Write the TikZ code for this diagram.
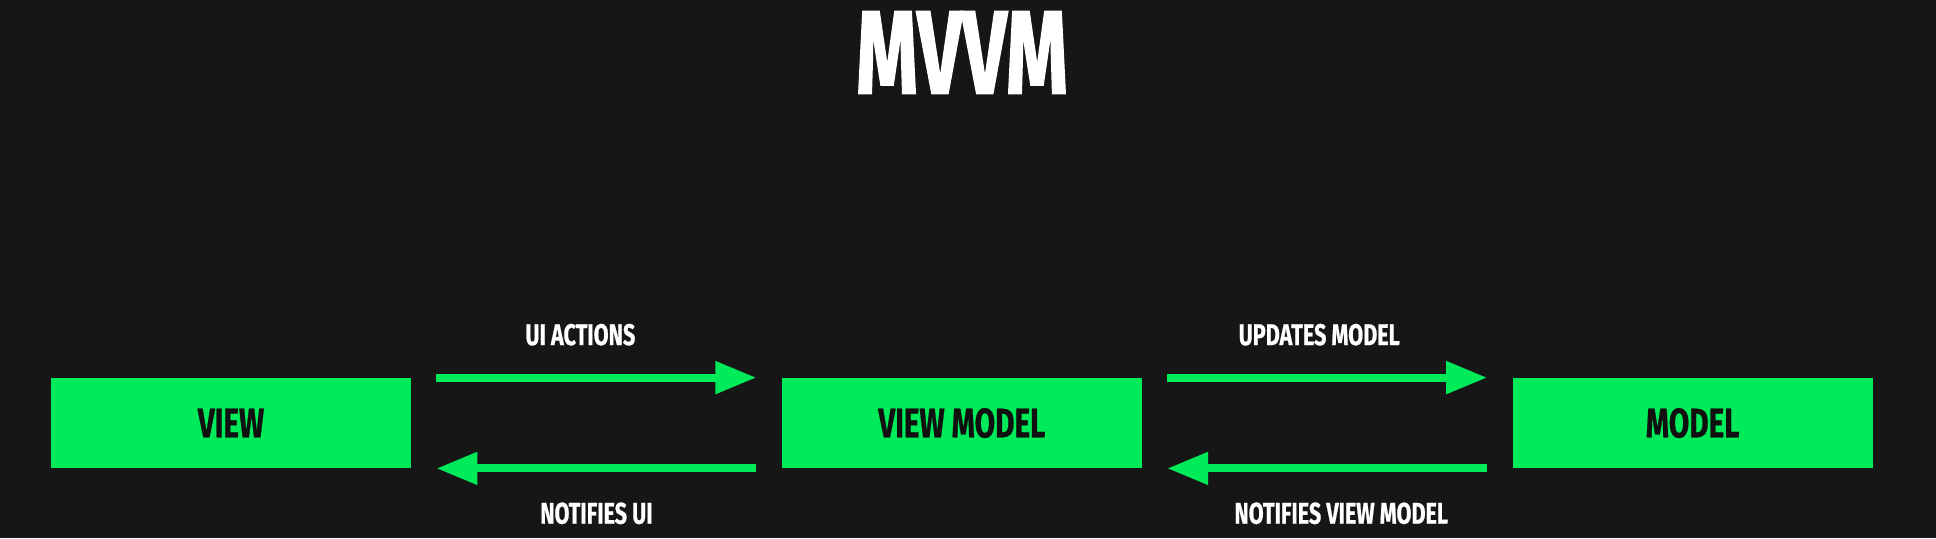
\documentclass[tikz,border=0pt]{standalone}
\usepackage{fontspec}
\setmainfont{Fira Sans}
\newfontfamily\titlefont[FakeStretch=0.66,FakeBold=1.2]{Fira Sans}
\newfontfamily\labelfont[FakeStretch=0.72,FakeBold=0.6]{Fira Sans}
\usepackage{xcolor}
\usetikzlibrary{positioning,arrows.meta}
\definecolor{bggray}{HTML}{161616}
\definecolor{mvvmgreen}{HTML}{00EB5A}
\definecolor{boxtext}{HTML}{101010}

\begin{document}
\begin{tikzpicture}[x=0.5pt,y=-0.5pt]
            \tikzstyle{block} = [fill=mvvmgreen, minimum width=180pt, minimum height=45pt, inner sep=0pt, text=boxtext, font=\labelfont\bfseries\fontsize{20.6}{21}\selectfont]
            \tikzstyle{flow} = [draw=mvvmgreen, line width=4pt, -{Triangle[length=20.5pt,width=15.5pt]}]
            \tikzstyle{tag} = [inner sep=0pt, text=white, font=\labelfont\bfseries\fontsize{15}{16}\selectfont]
            \fill [bggray] (0,0) rectangle (1936,538);
            \useasboundingbox (0,0) rectangle (1936,538);

            \node [text=white, inner sep=0pt, font=\titlefont\bfseries\fontsize{59.5}{60}\selectfont] (title) at (962,52.5) {MVVM};
            \node [block] (view) at (231,423) {VIEW};
            \node [block, right = 185pt of view] (viewmodel) {VIEW MODEL};
            \node [block, right = 185pt of viewmodel] (model) {MODEL};

            \draw [flow] ([xshift=12.5pt]view.north east) -- node[tag, above=14pt, xshift=-8pt] {UI ACTIONS} ([xshift=-12.5pt]viewmodel.north west);
            \draw [flow] ([xshift=-12.5pt]viewmodel.south west) -- node[tag, below=15pt] {NOTIFIES UI} ([xshift=12.5pt]view.south east);
            \draw [flow] ([xshift=12.5pt]viewmodel.north east) -- node[tag, above=14pt, xshift=-4pt] {UPDATES MODEL} ([xshift=-12.5pt]model.north west);
            \draw [flow] ([xshift=-12.5pt]model.south west) -- node[tag, below=15pt, xshift=7pt] {NOTIFIES VIEW MODEL} ([xshift=12.5pt]viewmodel.south east);
\end{tikzpicture}
\end{document}
